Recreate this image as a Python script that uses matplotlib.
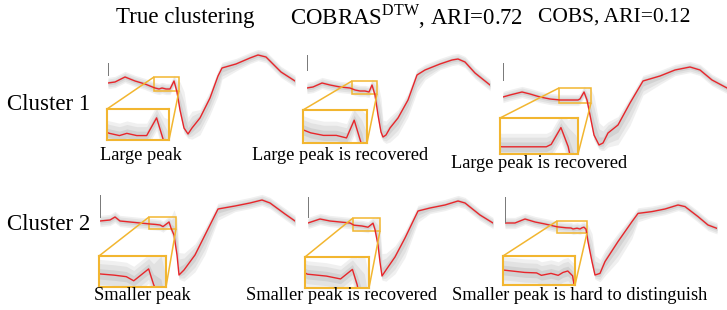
import matplotlib
matplotlib.use('Agg')
import matplotlib.pyplot as plt
import numpy as np
from mpl_toolkits.axes_grid1.inset_locator import mark_inset

plt.rcParams['font.family'] = ['Liberation Serif', 'DejaVu Serif']
plt.rcParams['mathtext.fontset'] = 'custom'
plt.rcParams['mathtext.rm'] = 'Liberation Serif'

# column titles / row labels / captions
col_titles = ['True clustering', r'COBRAS$^{\mathrm{DTW}}$, ARI=0.72', 'COBS, ARI=0.12']
row_labels = ['Cluster 1', 'Cluster 2']
captions = [['Large peak', 'Large peak is recovered', 'Large peak is recovered'],
            ['Smaller peak', 'Smaller peak is recovered', 'Smaller peak is hard to distinguish']]

# mean series (red) of each cluster, time step -> amplitude
# upper / lower spread of the member series (grey band)
t_r1c1 = [0, 7, 17, 27, 37, 42, 47, 51, 54, 58, 62, 66, 69, 72, 76, 80, 84, 92, 102, 110, 114, 128, 142, 150, 158, 173, 187]
a_r1c1 = [0.10, 0.15, 0.40, 0.20, 0.05, -0.05, -0.15, -0.20, -0.15, -0.20, -0.20, 0.20, -0.35, -1.25, -2.15, -2.45, -2.15,
          -1.65, -0.65, 0.45, 0.85, 1.05, 1.35, 1.50, 1.40, 0.65, 0.20]
up_r1c1 = [0.2] * 12 + [0.4, 1.0, 1.3, 0.6, 0.6, 0.3, 0.25] + [0.2] * 8
dn_r1c1 = [0.2] * 15 + [0.15, 0.4, 0.6, 0.6, 0.7, 0.4, 0.25] + [0.2] * 5

t_r1c2 = [0, 6, 15, 23, 33, 43, 48, 53, 58, 62, 65, 68, 71, 74, 76, 79, 83, 91, 101, 110, 118, 133, 145, 151, 158, 168, 183]
a_r1c2 = [-0.15, -0.10, 0.10, 0.0, -0.10, -0.15, -0.25, -0.30, -0.30, -0.35, 0.0, -0.50, -1.50, -2.35, -2.60, -2.50,
          -2.15, -1.65, -0.75, 0.50, 0.75, 1.05, 1.25, 1.30, 1.15, 0.60, 0.0]
up_r1c2 = [0.2] * 11 + [0.5, 1.1, 1.2, 0.6, 0.5, 0.4, 0.3, 0.25] + [0.2] * 8
dn_r1c2 = [0.2] * 14 + [0.15, 0.3, 0.5, 0.6, 0.6, 0.6, 0.35] + [0.2] * 6

t_r1c3 = [0, 7, 19, 27, 37, 47, 57, 67, 75, 77, 81, 84, 87, 91, 96, 100, 105, 115, 127, 140, 157, 172, 187, 197, 209, 224]
a_r1c3 = [-0.60, -0.50, -0.35, -0.45, -0.60, -0.70, -0.75, -0.75, -0.75, -0.70, -0.35, -0.75, -1.50, -2.50, -3.00,
          -2.90, -2.40, -2.00, -0.90, 0.20, 0.45, 0.75, 0.90, 0.75, 0.25, -0.15]
up_r1c3 = [0.2] * 11 + [0.4, 1.0, 1.4, 0.8, 0.6, 0.4, 0.3] + [0.2] * 8
dn_r1c3 = [0.2] * 14 + [0.15, 0.3, 0.5, 0.7, 0.8, 0.5, 0.3] + [0.2] * 5

t_r2c1 = [0, 10, 15, 20, 30, 40, 50, 55, 60, 63, 69, 71, 74, 77, 79, 84, 95, 105, 118, 135, 150, 162, 170, 185, 195]
a_r2c1 = [0.20, 0.25, 0.40, 0.20, 0.15, 0.10, 0.05, 0.03, 0.0, -0.08, 0.15, -0.15, -0.50, -1.50, -2.50, -2.25, -1.50,
          -0.50, 0.80, 0.95, 1.10, 1.25, 1.10, 0.55, 0.20]
up_r2c1 = [0.2] * 11 + [0.4, 0.9, 1.3, 0.8, 0.6, 0.4, 0.25] + [0.2] * 7
dn_r2c1 = [0.2] * 14 + [0.15, 0.4, 0.6, 0.7, 0.4] + [0.2] * 6

t_r2c2 = [0, 12, 22, 32, 42, 46, 54, 60, 65, 67, 70, 72, 74, 78, 87, 97, 110, 122, 137, 150, 157, 172, 185]
a_r2c2 = [0.10, 0.30, 0.20, 0.15, 0.10, -0.01, -0.05, -0.11, 0.09, -0.23, -1.00, -1.85, -2.55, -2.25, -1.60, -0.65,
          0.70, 0.85, 1.00, 1.20, 1.10, 0.50, 0.10]
up_r2c2 = [0.2] * 9 + [0.4, 1.0, 1.3, 0.8, 0.6, 0.4, 0.25] + [0.2] * 7
dn_r2c2 = [0.2] * 12 + [0.15, 0.4, 0.6, 0.7, 0.4] + [0.2] * 6

t_r2c3 = [0, 10, 20, 30, 40, 52, 61, 66, 68, 72, 75, 77, 79, 81, 83, 87, 90, 95, 100, 113, 127, 133, 147, 160, 173,
          180, 193, 203, 212]
a_r2c3 = [0.10, 0.10, 0.30, 0.15, 0.05, -0.09, -0.14, -0.15, -0.20, -0.16, -0.20, -0.14, -0.11, -0.21, -0.83, -1.83,
          -2.50, -2.42, -1.83, -0.83, 0.17, 0.58, 0.67, 0.80, 1.00, 0.92, 0.42, 0.0, -0.17]
up_r2c3 = [0.2] * 14 + [0.6, 1.0, 0.7, 0.5, 0.4, 0.3] + [0.2] * 9
dn_r2c3 = [0.2] * 16 + [0.15, 0.3, 0.5, 0.7, 0.6, 0.3] + [0.2] * 7

# zoomed window of every panel: (t0, t1, a0, a1)
zoom_r1 = [(46, 71, -0.30, 0.40), (45, 70, -0.45, 0.20), (56, 88, -0.90, -0.15)]
zoom_r2 = [(49, 76, -0.20, 0.40), (45, 72, -0.30, 0.35), (52, 82, -0.40, 0.20)]

series = [[(t_r1c1, a_r1c1, up_r1c1, dn_r1c1), (t_r1c2, a_r1c2, up_r1c2, dn_r1c2), (t_r1c3, a_r1c3, up_r1c3, dn_r1c3)],
          [(t_r2c1, a_r2c1, up_r2c1, dn_r2c1), (t_r2c2, a_r2c2, up_r2c2, dn_r2c2), (t_r2c3, a_r2c3, up_r2c3, dn_r2c3)]]
zooms = [zoom_r1, zoom_r2]

RED = '#e8262b'
GOLD = '#f2b630'
W, H = 727, 310

# layout in pixels
panel_left = [[108, 307, 503], [100, 308, 505]]
row_span = [(50, 150), (190, 290)]
inset_px = [[(107, 109, 169, 140), (303, 110, 367, 143), (500, 118, 578, 154)],
            [(99, 256, 166, 287), (305, 257, 369, 288), (503, 256, 575, 285)]]
stub = [[(0.5, 1.1), (0.75, 1.5), (0.25, 1.1)], [(0.4, 1.5), (0.4, 1.4), (0.15, 1.4)]]

fig = plt.figure(figsize=(7.27, 3.10), dpi=100)


def px_box(x0, y0, x1, y1):
    return [x0 / W, 1 - y1 / H, (x1 - x0) / W, (y1 - y0) / H]


def draw_series(ax, t, a, up, dn):
    t = np.array(t); a = np.array(a); up = np.array(up); dn = np.array(dn)
    ax.fill_between(t, a - 1.4 * dn, a + 1.4 * up, color='#f0f0f0', lw=0)
    ax.fill_between(t, a - dn, a + up, color='#e2e2e2', lw=0)
    ax.fill_between(t, a - 0.5 * dn, a + 0.5 * up, color='#d2d2d2', lw=0)
    ax.plot(t, a, color=RED, lw=1.0)


for r in range(2):
    for c in range(3):
        t, a, up, dn = series[r][c]
        y0, y1 = row_span[r]
        x0 = panel_left[r][c]
        ax = fig.add_axes(px_box(x0, y0, x0 + t[-1], y1))
        draw_series(ax, t, a, up, dn)
        ax.set_xlim(0, t[-1])
        ax.set_ylim(-3.25, 1.75)
        ax.set_xticks([]); ax.set_yticks([])
        for s in ['top', 'right', 'bottom']:
            ax.spines[s].set_visible(False)
        ax.spines['left'].set_bounds(*stub[r][c])
        ax.spines['left'].set_color('#777777')
        ax.spines['left'].set_linewidth(0.7)
        ax.patch.set_alpha(0)

        zt0, zt1, za0, za1 = zooms[r][c]
        axi = fig.add_axes(px_box(*inset_px[r][c]))
        draw_series(axi, t, a, up, dn)
        axi.set_xlim(zt0, zt1)
        axi.set_ylim(za0, za1)
        axi.set_xticks([]); axi.set_yticks([])
        for s in axi.spines.values():
            s.set_color(GOLD)
            s.set_linewidth(1.5)
        mark_inset(ax, axi, loc1=2, loc2=4, fc='none', ec=GOLD, lw=1.1)

# titles, row labels, captions
title_x = [185, 406, 614]
title_size = [16.5, 16.5, 15.5]
for c in range(3):
    fig.text(title_x[c] / W, 1 - 17 / H, col_titles[c], ha='center', va='center', fontsize=title_size[c])
label_y = [104, 225]
for r in range(2):
    fig.text(49 / W, 1 - label_y[r] / H, row_labels[r], ha='center', va='center', fontsize=16.5)
cap_x = [[141, 340, 539], [142, 342, 580]]
cap_y = [[155, 155, 163], [296, 296, 296]]
for r in range(2):
    for c in range(3):
        fig.text(cap_x[r][c] / W, 1 - cap_y[r][c] / H, captions[r][c], ha='center', va='center', fontsize=13.2)

fig.savefig('out.png', dpi=100)
